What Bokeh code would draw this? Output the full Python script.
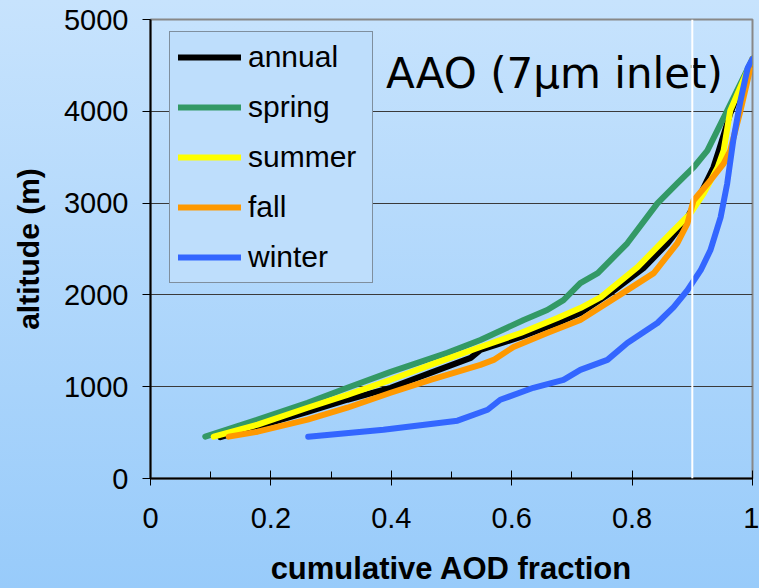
from bokeh.plotting import figure
from bokeh.models import (Range1d, SingleIntervalTicker, CustomJSTickFormatter,
                          Legend, LegendItem, Span, Label)
from bokeh.embed import file_html
from bokeh.resources import INLINE

# cumulative AOD fraction vs altitude (m), per season
annual_x = [0.116, 0.178, 0.261, 0.327, 0.399, 0.465, 0.532, 0.548, 0.615, 0.676,
            0.714, 0.764, 0.819, 0.859, 0.892, 0.914, 0.935, 0.944, 0.963, 1.0]
annual_y = [450, 565, 727, 858, 988, 1151, 1314, 1401, 1542, 1694,
            1802, 2020, 2291, 2562, 2845, 3105, 3388, 3572, 3974, 4570]

spring_x = [0.091, 0.178, 0.261, 0.327, 0.399, 0.493, 0.548, 0.620, 0.659, 0.686,
            0.714, 0.743, 0.792, 0.842, 0.875, 0.902, 0.925, 0.958, 1.0]
spring_y = [456, 641, 825, 988, 1162, 1368, 1509, 1726, 1835, 1943,
            2128, 2237, 2562, 2997, 3214, 3388, 3572, 4007, 4570]

summer_x = [0.105, 0.178, 0.261, 0.327, 0.399, 0.465, 0.548, 0.615, 0.676, 0.714,
            0.748, 0.809, 0.864, 0.897, 0.919, 0.942, 0.952, 0.963, 1.0]
summer_y = [456, 586, 771, 912, 1075, 1238, 1433, 1585, 1748, 1857,
            1976, 2302, 2671, 2888, 3105, 3388, 3572, 4007, 4570]

fall_x = [0.130, 0.178, 0.261, 0.327, 0.399, 0.465, 0.548, 0.570, 0.603, 0.659,
          0.714, 0.792, 0.836, 0.875, 0.892, 0.902, 0.930, 0.952, 0.963, 0.980, 1.0]
fall_y = [456, 510, 641, 771, 934, 1075, 1238, 1292, 1433, 1585,
          1726, 2052, 2237, 2562, 2780, 3029, 3246, 3431, 3572, 4007, 4570]

winter_x = [0.262, 0.387, 0.510, 0.560, 0.581, 0.636, 0.686, 0.714, 0.759, 0.792,
            0.842, 0.869, 0.892, 0.914, 0.930, 0.947, 0.958, 0.968, 0.980, 0.992, 1.0]
winter_y = [456, 532, 630, 749, 858, 988, 1075, 1183, 1292, 1477,
            1694, 1867, 2052, 2269, 2486, 2845, 3214, 3681, 4115, 4473, 4570]

series = [
    ("annual", annual_x, annual_y, "#000000"),
    ("spring", spring_x, spring_y, "#339966"),
    ("summer", summer_x, summer_y, "#ffff00"),
    ("fall", fall_x, fall_y, "#ff9900"),
    ("winter", winter_x, winter_y, "#3366ff"),
]

title_text = "AAO (7\u03bcm inlet)"
cutoff_fraction = 0.9

FONT = "Liberation Sans"

p = figure(width=759, height=588, output_backend="svg", toolbar_location=None,
           x_range=Range1d(0, 1), y_range=Range1d(0, 5000),
           min_border_left=150, min_border_right=7,
           min_border_top=19, min_border_bottom=109)

p.styles = {"background": "linear-gradient(to bottom, #c7e3fd, #98cbfa)"}
p.border_fill_alpha = 0
p.background_fill_alpha = 0
p.outline_line_color = "#888888"
p.outline_line_width = 2

# axes
xa = p.xaxis[0]
xa.ticker = SingleIntervalTicker(interval=0.2, num_minor_ticks=2)
xa.formatter = CustomJSTickFormatter(code="return tick.toFixed(1).replace(/\\.0$/, '');")
xa.axis_label = "cumulative AOD fraction"
xa.major_tick_in = 8
xa.major_tick_out = 7
xa.minor_tick_in = 7
xa.minor_tick_out = 0

ya = p.yaxis[0]
ya.ticker = SingleIntervalTicker(interval=1000, num_minor_ticks=0)
ya.axis_label = "altitude (m)"
ya.major_tick_in = 0
ya.major_tick_out = 8
ya.minor_tick_in = 0
ya.minor_tick_out = 0

for ax in (xa, ya):
    ax.axis_line_color = "#000000"
    ax.axis_line_width = 2
    ax.major_tick_line_color = "#000000"
    ax.major_tick_line_width = 1
    ax.minor_tick_line_color = "#000000"
    ax.major_label_text_font = FONT
    ax.major_label_text_font_size = "29px"
    ax.major_label_text_color = "#000000"
    ax.axis_label_text_font = FONT
    ax.axis_label_text_font_style = "bold"
    ax.axis_label_text_color = "#000000"

xa.axis_label_text_font_size = "31px"
ya.axis_label_text_font_size = "30px"
xa.major_label_standoff = 22
xa.axis_label_standoff = 20
ya.major_label_standoff = 14
ya.axis_label_standoff = 16

p.xgrid.visible = False
p.ygrid.grid_line_color = "#3a3a3a"
p.ygrid.grid_line_width = 1

items = []
for name, xs, ys, color in series:
    r = p.line(xs, ys, line_color=color, line_width=6,
               line_cap="round", line_join="round")
    items.append(LegendItem(label=name, renderers=[r]))

legend = Legend(items=items, location=(19, 195),
                label_text_font=FONT, label_text_font_size="30px",
                label_text_color="#000000",
                glyph_width=63, glyph_height=30, label_height=30,
                label_width=116, label_standoff=7,
                spacing=16, padding=8, margin=0,
                border_line_color="#404040", border_line_width=1,
                background_fill_color="#bedefc", background_fill_alpha=1)
p.add_layout(legend, "center")

p.add_layout(Label(x=0.671, y=4408, text=title_text, text_align="center",
                   text_baseline="alphabetic", text_font="DejaVu Sans",
                   text_font_size="42px", text_color="#000000"))

p.add_layout(Span(location=cutoff_fraction, dimension="height",
                  line_color="#ffffff", line_width=2))

open("out.html", "w").write(file_html(p, INLINE))
